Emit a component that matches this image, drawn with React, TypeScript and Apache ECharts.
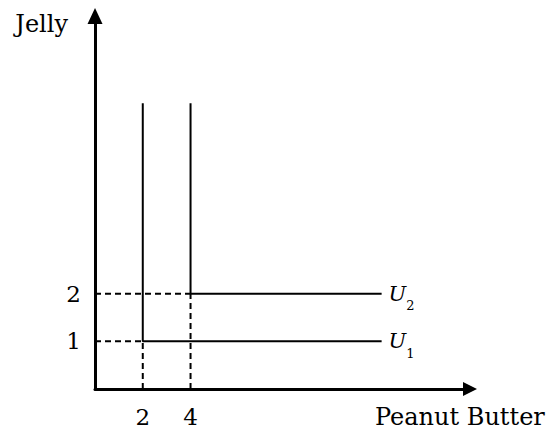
import React, { useEffect, useRef } from "react";
import * as echarts from "echarts";

// Kinks of the indifference curves (perfect complements)
const kinkX = [2, 4];
const kinkY = [1, 2];
const curveNames = ["1", "2"];
const curveTop = 6;
const curveRight = 12;
const xTickLabels = [2, 4];
const yTickLabels = [1, 2];

const FONT = "DejaVu Serif";

export default function App() {
  const ref = useRef<HTMLDivElement>(null);
  useEffect(() => {
    if (!ref.current) return;
    const chart = echarts.init(ref.current, null, { renderer: "svg" });

    const curves = kinkX.map((kx, i) => ({
      type: "line",
      name: "U" + curveNames[i],
      data: [
        [kx, curveTop],
        [kx, kinkY[i]],
        [curveRight, kinkY[i]],
      ],
      symbol: "none",
      silent: true,
      lineStyle: { color: "#000", width: 2 },
      endLabel: {
        show: true,
        distance: 7,
        formatter: () => "{u|U}{s|" + curveNames[i] + "}",
        rich: {
          u: {
            fontFamily: FONT,
            fontStyle: "italic",
            fontSize: 21,
            lineHeight: 37,
            verticalAlign: "middle",
            color: "#000",
          },
          s: {
            fontFamily: FONT,
            fontSize: 13,
            lineHeight: 13,
            verticalAlign: "bottom",
            color: "#000",
          },
        },
      },
      z: 3,
    }));

    const dashed: any[] = [];
    kinkX.forEach((kx, i) => {
      dashed.push({
        type: "line",
        data: [
          [0, kinkY[i]],
          [kx, kinkY[i]],
        ],
        symbol: "none",
        silent: true,
        lineStyle: { color: "#000", width: 2, type: [6, 4] },
        z: 2,
      });
      dashed.push({
        type: "line",
        data: [
          [kx, 0],
          [kx, kinkY[i]],
        ],
        symbol: "none",
        silent: true,
        lineStyle: { color: "#000", width: 2, type: [6, 4] },
        z: 2,
      });
    });

    chart.setOption({
      animation: false,
      grid: {
        left: 95,
        top: 16,
        width: 375,
        height: 373,
        containLabel: false,
        outerBoundsMode: "none",
      },
      xAxis: {
        type: "value",
        min: 0,
        max: 15.7,
        interval: 2,
        name: "Peanut Butter",
        nameLocation: "end",
        nameGap: -95,
        nameTextStyle: {
          fontFamily: FONT,
          fontSize: 24,
          color: "#000",
          align: "left",
          verticalAlign: "top",
          lineHeight: 56,
        },
        axisLine: {
          show: true,
          symbol: ["none", "triangle"],
          symbolSize: [14, 14],
          lineStyle: { color: "#000", width: 3 },
        },
        axisTick: { show: false },
        splitLine: { show: false },
        axisLabel: {
          margin: 16,
          fontFamily: FONT,
          fontSize: 23,
          color: "#000",
          showMinLabel: false,
          showMaxLabel: false,
          formatter: (v: number) => (xTickLabels.includes(v) ? String(v) : ""),
        },
      },
      yAxis: {
        type: "value",
        min: 0,
        max: 7.83,
        interval: 1,
        name: "Jelly",
        nameLocation: "end",
        nameGap: -8,
        nameTextStyle: {
          fontFamily: FONT,
          fontSize: 24,
          color: "#000",
          align: "right",
          verticalAlign: "middle",
          padding: [0, 27, 0, 0],
        },
        axisLine: {
          show: true,
          symbol: ["none", "triangle"],
          symbolSize: [15, 16],
          lineStyle: { color: "#000", width: 3 },
        },
        axisTick: { show: false },
        splitLine: { show: false },
        axisLabel: {
          margin: 14,
          fontFamily: FONT,
          fontSize: 23,
          color: "#000",
          showMinLabel: false,
          showMaxLabel: false,
          formatter: (v: number) => (yTickLabels.includes(v) ? String(v) : ""),
        },
      },
      series: [...dashed, ...curves],
    });
    return () => chart.dispose();
  }, []);
  return (
    <div
      ref={ref}
      style={{
        position: "fixed",
        left: 0,
        top: 0,
        width: 548,
        height: 436,
        overflow: "hidden",
        background: "#fff",
      }}
    />
  );
}
